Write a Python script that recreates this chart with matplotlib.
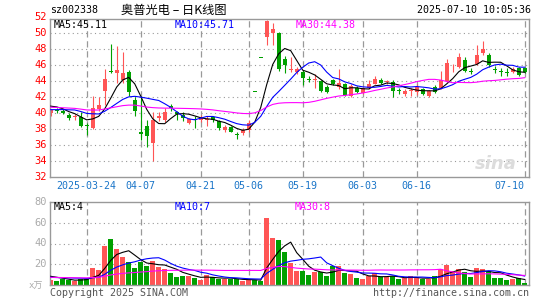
import numpy as np
import matplotlib.pyplot as plt
from matplotlib.transforms import blended_transform_factory

plt.rcParams['font.family'] = ['DejaVu Sans Mono', 'Noto Sans CJK SC']

# header texts
code = "sz002338"
title = "奥普光电 – 日K线图"
stamp = "2025-07-10 10:05:36"

# trading-day index of each date label (80 sessions shown)
tick_pos = [6, 15, 25, 33, 42, 52, 61, 79]
tick_labels = ["2025-03-24", "04-07", "04-21", "05-06", "05-19", "06-03", "06-16", "07-10"]

opens = [40.0, 40.45, 40.3, 39.8, 39.5, 39.5, 38.5, 38.1, 40.5, 42.8,
         45.3, 45.0, 44.1, 45.1, 41.6, 37.6, 38.4, 36.2, 39.4, 39.1,
         40.9, 40.1, 39.8, 38.8, 39.25, 39.1, 39.15, 39.5, 39.0, 37.9,
         38.25, 37.35, 37.5, 37.9, 42.70, 46.97, 49.6, 50.0, 50.0, 46.8,
         45.45, 45.1, 45.2, 44.3, 44.2, 44.0, 43.3, 44.1, 43.25, 43.6,
         42.1, 43.2, 42.55, 43.1, 43.7, 44.2, 43.95, 43.9, 42.85, 42.4,
         42.75, 42.7, 43.0, 42.1, 43.25, 43.2, 44.0, 45.6, 45.8, 46.6,
         45.3, 46.2, 47.5, 47.3, 45.55, 45.25, 45.15, 45.1, 45.6, 45.7]
highs = [40.5, 40.6, 40.5, 40.0, 39.9, 40.2, 38.8, 42.2, 42.0, 45.5,
         48.7, 48.4, 47.7, 45.4, 42.0, 42.2, 39.2, 40.1, 40.2, 40.7,
         41.1, 40.3, 40.1, 39.4, 39.6, 39.8, 39.7, 39.7, 39.2, 38.5,
         38.4, 37.7, 38.1, 39.1, 42.70, 46.97, 51.65, 51.3, 50.2, 47.2,
         47.1, 45.8, 45.4, 44.6, 44.9, 44.2, 43.5, 44.3, 45.5, 43.8,
         43.6, 43.4, 43.3, 44.2, 44.6, 44.35, 44.2, 44.1, 43.2, 43.05,
         43.2, 43.6, 43.2, 42.9, 43.5, 45.25, 46.8, 46.2, 47.5, 47.0,
         45.6, 48.5, 49.0, 47.5, 45.9, 45.7, 45.6, 45.8, 45.8, 45.8]
lows = [39.7, 40.0, 39.9, 39.2, 39.1, 38.3, 37.3, 38.0, 40.3, 41.0,
        45.0, 43.8, 43.8, 42.1, 39.6, 36.6, 35.8, 34.0, 39.0, 38.9,
        40.3, 39.2, 39.0, 38.7, 38.1, 38.9, 38.4, 38.9, 37.9, 37.7,
        37.6, 36.75, 37.3, 37.7, 42.66, 46.93, 48.5, 48.6, 45.3, 45.0,
        45.2, 44.9, 43.5, 43.9, 43.1, 42.6, 42.5, 43.5, 43.0, 42.1,
        42.0, 42.5, 42.4, 43.0, 43.6, 43.7, 43.7, 42.0, 42.4, 42.2,
        42.2, 42.3, 42.3, 42.0, 42.5, 43.0, 43.9, 45.1, 45.7, 45.2,
        44.9, 46.0, 47.3, 45.8, 45.0, 44.6, 44.6, 45.0, 44.6, 45.0]
closes = [40.4, 40.3, 40.0, 39.4, 39.6, 38.4, 38.4, 40.6, 41.0, 44.3,
          45.1, 45.4, 45.0, 42.6, 40.3, 37.4, 37.1, 39.1, 39.6, 40.2,
          40.6, 39.9, 39.4, 39.25, 39.15, 39.4, 39.25, 39.1, 38.1, 38.3,
          37.7, 37.25, 37.9, 38.8, 42.66, 46.93, 51.6, 50.5, 45.5, 46.0,
          45.55, 45.5, 44.4, 44.2, 44.3, 42.8, 42.7, 43.7, 43.8, 42.3,
          43.4, 42.7, 43.1, 43.65, 44.3, 43.8, 44.05, 42.8, 42.75, 42.8,
          42.85, 43.25, 42.4, 42.75, 42.7, 44.2, 46.3, 45.7, 47.0, 45.3,
          45.2, 47.3, 48.0, 46.0, 45.45, 45.15, 45.05, 45.5, 44.8, 45.1]
volumes = [5.1, 4.4, 5.7, 5.0, 4.4, 5.7, 6.3, 16.5, 14.6, 37.5,
           44.1, 34.6, 27.0, 22.2, 16.5, 22.5, 18.4, 23.5, 17.5, 15.2,
           12.1, 8.3, 8.9, 8.9, 7.0, 5.1, 9.5, 7.6, 6.3, 5.7,
           5.7, 6.3, 4.4, 5.1, 5.1, 3.8, 64.4, 45.4, 43.2, 32.0,
           21.6, 14.0, 14.0, 9.8, 13.0, 13.0, 8.9, 18.4, 18.4, 12.1,
           10.8, 7.3, 6.0, 8.9, 11.4, 7.6, 7.6, 8.9, 5.7, 6.7,
           8.9, 7.3, 5.7, 5.7, 8.9, 15.6, 19.4, 13.7, 15.2, 13.0,
           8.3, 16.5, 15.2, 13.7, 7.3, 7.3, 5.4, 6.0, 6.7, 2.5]

# earlier sessions, not drawn: they only feed the moving averages
prior_closes = [41.3, 41.0, 40.6, 40.8, 41.2, 41.5, 41.1, 40.7, 40.5, 40.9,
                41.2, 40.8, 40.6, 40.4, 40.7, 41.0, 41.3, 40.9, 40.8, 40.7,
                40.3, 39.9, 39.7, 39.8, 40.3, 40.8, 41.1, 41.2, 40.9]
prior_volumes = [7.2, 8.5, 6.9, 7.8, 9.1, 6.4, 7.0, 8.2, 7.5, 6.8,
                 8.8, 7.9, 6.6, 7.3, 8.1, 7.0, 7.7, 8.4, 6.9, 7.9,
                 6.2, 7.1, 6.5, 6.8, 6.4, 8.9, 10.2, 9.6, 9.2]

price_ma_text = ["MA5:45.11", "MA10:45.71", "MA30:44.38"]
vol_ma_text = ["MA5:4", "MA10:7", "MA30:8"]
ma_periods = [5, 10, 30]
ma_colors = ["#000000", "#0000ff", "#ff00ff"]

RED = "#ff5555"
GREEN = "#00a000"
GRID = "#999999"
W, H = 545, 300


def moving_avg(prior, values, n):
    s = np.array(prior + values, dtype=float)
    out = np.convolve(s, np.ones(n) / n, mode="valid")
    return out[-len(values):]


def box(x0, y0, x1, y1):
    return [x0 / W, 1 - y1 / H, (x1 - x0) / W, (y1 - y0) / H]


o = np.array(opens)
c = np.array(closes)
x = np.arange(len(closes))
colors = np.where(c >= o, RED, GREEN)

fig = plt.figure(figsize=(W / 100, H / 100), dpi=100)
ax = fig.add_axes(box(50, 19, 529, 177))
axv = fig.add_axes(box(50, 201.7, 529, 285.3))

for a in (ax, axv):
    a.set_xlim(-0.12, 79.72)
    a.set_xticks(tick_pos)
    a.tick_params(length=0)
    a.set_yticks([])
    for t in tick_pos:
        a.axvline(t, color=GRID, lw=0.9, ls=(0, (5, 3)), zorder=0)
    for s in a.spines.values():
        s.set_color("#999999")
        s.set_linewidth(1.0)

# candles
ax.vlines(x, lows, highs, colors=colors, lw=0.8, zorder=2)
ax.bar(x, np.maximum(np.abs(c - o), 0.12), bottom=np.minimum(o, c),
       width=0.72, color=colors, linewidth=0, zorder=2)
for n, col in zip(ma_periods, ma_colors):
    ax.plot(x, moving_avg(prior_closes, closes, n), color=col, lw=0.8, zorder=3)

# volume
axv.bar(x, volumes, width=0.8, color=colors, linewidth=0, zorder=2)
for n, col in zip(ma_periods, ma_colors):
    axv.plot(x, moving_avg(prior_volumes, volumes, n), color=col, lw=0.8, zorder=3)

ax.set_ylim(32, 51.8)
for v in range(34, 51, 2):
    ax.axhline(v, color=GRID, lw=0.8, ls=(0, (1, 3)), zorder=0)
ty = blended_transform_factory(ax.transAxes, ax.transData)
for v in range(32, 53, 2):
    ax.text(-0.007, v, str(v), transform=ty, ha="right", va="center",
            color="#ff0000", fontsize=7.5, clip_on=False)
ax.set_xticklabels(tick_labels, fontsize=7.2, color="#1a75c8")
ax.tick_params(axis="x", pad=3)
ax.get_xticklabels()[-1].set_ha("right")

axv.set_ylim(0, 80)
axv.set_xticklabels([])
for v in range(20, 61, 20):
    axv.axhline(v, color=GRID, lw=0.8, ls=(0, (1, 3)), zorder=0)
tv = blended_transform_factory(axv.transAxes, axv.transData)
for v in range(20, 81, 20):
    axv.text(-0.007, v, str(v), transform=tv, ha="right", va="center",
             color="#aaaaaa", fontsize=7.5, clip_on=False)
axv.text(-0.015, -1.5, "x万", transform=tv, ha="right", va="center",
         color="#aaaaaa", fontsize=6.5, clip_on=False)

# header and legends
fig.text(50 / W, 1 - 10 / H, code, fontsize=7.2, va="center")
fig.text(121 / W, 1 - 10 / H, title, fontsize=8.8, va="center",
         family=["Noto Sans CJK SC", "DejaVu Sans"])
fig.text(531 / W, 1 - 10 / H, stamp, fontsize=7.2, va="center", ha="right")
for txt, col, px in zip(price_ma_text, ma_colors, [54, 175, 296]):
    fig.text(px / W, 1 - 25 / H, txt, color=col, fontsize=7.2, va="center")
for txt, col, px in zip(vol_ma_text, ma_colors, [54, 175, 295]):
    fig.text(px / W, 1 - 207 / H, txt, color=col, fontsize=7.2, va="center")

ax.text(0.975, 0.08, "sina", transform=ax.transAxes, ha="right", va="center",
        fontsize=13, style="italic", weight="bold", color="#dcdcdc",
        family="DejaVu Sans", zorder=0)

fig.text(50 / W, 1 - 292.5 / H, "Copyright 2025 SINA.COM", fontsize=7.2,
         va="center", color="#555555")
fig.text(529 / W, 1 - 292.5 / H, "http://finance.sina.com.cn", fontsize=7.2,
         va="center", ha="right", color="#555555")

fig.savefig("out.png", dpi=100)
